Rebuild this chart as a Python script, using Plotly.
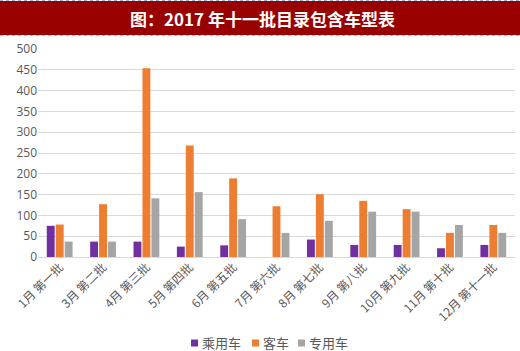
import plotly.graph_objects as go

categories = ["1月 第一批", "3月 第二批", "4月 第三批", "5月 第四批", "6月 第五批", "7月 第六批",
              "8月 第七批", "9月 第八批", "10月 第九批", "11月 第十批", "12月 第十一批"]
passenger_car = [75, 37, 37, 25, 28, 0, 42, 29, 29, 21, 29]
bus = [78, 127, 454, 268, 189, 122, 151, 135, 115, 58, 77]
special = [37, 37, 141, 156, 91, 58, 87, 109, 109, 77, 58]
series_names = ["乘用车", "客车", "专用车"]
colors = ["#7030A0", "#ED7D31", "#A5A5A5"]
y_ticks = [0, 50, 100, 150, 200, 250, 300, 350, 400, 450, 500]
title_text = "图：2017 年十一批目录包含车型表"

W, H = 520, 351
L, R, T, B = 38, 5, 49, 94
PW, PH = W - L - R, H - T - B


def px(x):
    return (x - L) / PW


def py(y):
    return (H - B - y) / PH


fig = go.Figure()
for name, vals, c in zip(series_names, [passenger_car, bus, special], colors):
    fig.add_trace(go.Bar(x=categories, y=vals, name=name, marker=dict(color=c, line=dict(width=0)),
                         showlegend=False))

fig.update_layout(
    width=W, height=H,
    margin=dict(l=L, r=R, t=T, b=B),
    paper_bgcolor="white", plot_bgcolor="white",
    barmode="group", bargap=0.38, bargroupgap=0.12,
    font=dict(family="Noto Sans CJK SC, Noto Sans, sans-serif", color="#595959", size=11),
    xaxis=dict(tickangle=-45, showgrid=False, showline=False, ticks="",
               tickfont=dict(size=12, color="#595959", family="Noto Sans CJK SC"), automargin=False),
    yaxis=dict(range=[0, 500], tickvals=y_ticks, showgrid=True, gridcolor="#D9D9D9", gridwidth=1,
               zeroline=True, zerolinecolor="#D9D9D9", zerolinewidth=1, showline=False,
               tickfont=dict(size=12, color="#595959", family="Open Sans"), automargin=False),
    showlegend=False,
)

# manual legend (compact, like the reference)
legend_x = [191, 252, 298]
legend_y = 342
for name, c, lx in zip(series_names, colors, legend_x):
    fig.add_shape(type="rect", xref="paper", yref="paper",
                  x0=px(lx), x1=px(lx + 7), y0=py(legend_y - 2.5), y1=py(legend_y + 4.5),
                  fillcolor=c, line=dict(width=0))
    fig.add_annotation(text=name, xref="paper", yref="paper", x=px(lx + 10), y=py(legend_y),
                       xanchor="left", yanchor="middle", showarrow=False, borderpad=0,
                       font=dict(size=13, color="#595959", family="Noto Sans CJK SC"))

# title banner
fig.add_shape(type="rect", xref="paper", yref="paper", x0=px(0), x1=px(W),
              y0=py(35), y1=py(1), fillcolor="#990000", line=dict(width=0), layer="below")
for yy in [0.5, 35.5]:
    fig.add_shape(type="line", xref="paper", yref="paper", x0=px(0), x1=px(W), y0=py(yy), y1=py(yy),
                  line=dict(color="#9DB0D0", width=1, dash="dot"))
fig.add_annotation(text="<b>" + title_text + "</b>", xref="paper", yref="paper",
                   x=px(262), y=py(18), xanchor="center", yanchor="middle",
                   showarrow=False, font=dict(size=17, color="white", family="Noto Sans CJK SC"))
fig.write_html("out.html")
